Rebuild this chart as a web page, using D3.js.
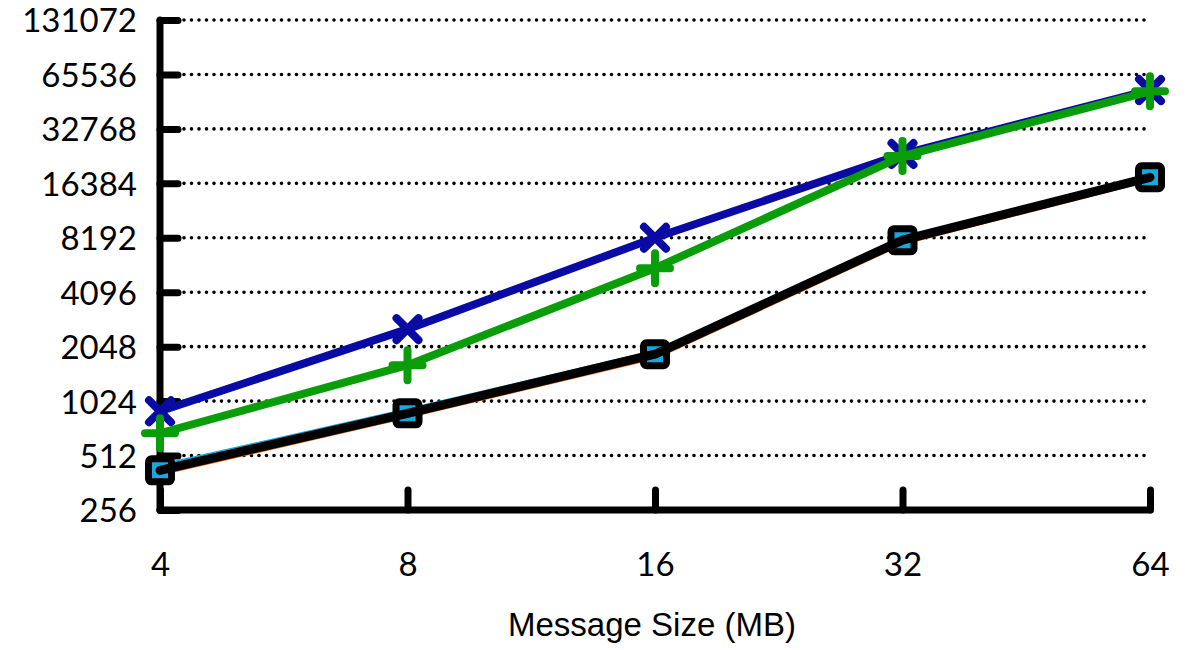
<!DOCTYPE html>
<html>
<head>
<meta charset="utf-8">
<script src="https://cdn.jsdelivr.net/npm/d3@7"></script>
<style>
  body { margin: 0; background: #fff; }
  svg { display: block; font-family: Lato, "Open Sans", sans-serif; }
</style>
</head>
<body>
<div class="chart"></div>
<script>
// message sizes (MB)
const sizes = [4, 8, 16, 32, 64];
const yTicks = [256, 512, 1024, 2048, 4096, 8192, 16384, 32768, 65536, 131072];

// series values
const orangeVals = [415, 860, 1820, 7800, 17500];
const cyanVals   = [440, 895, 1880, 7950, 17800];
const blackVals  = [424, 877, 1860, 7950, 17700];
const blueVals   = [900, 2560, 8192, 23800, 53700];
const greenVals  = [680, 1617, 5560, 23170, 52900];

const width = 1203, height = 650;
const margin = {top: 20, right: 53, bottom: 140, left: 160};

const svg = d3.select('.chart')
    .append('svg')
    .attr('width', width)
    .attr('height', height);

const xScale = d3.scaleLog().base(2)
    .domain([4, 64])
    .range([margin.left, width - margin.right]);
const yScale = d3.scaleLog().base(2)
    .domain([256, 131072])
    .range([height - margin.bottom, margin.top]);

// dotted gridlines
svg.append("g")
  .selectAll("line")
  .data(yTicks.slice(1))
  .join("line")
    .attr("x1", margin.left + 24)
    .attr("x2", xScale(64))
    .attr("y1", d => yScale(d))
    .attr("y2", d => yScale(d))
    .attr("stroke", "black")
    .attr("stroke-width", 3.6)
    .attr("stroke-linecap", "round")
    .attr("stroke-dasharray", "0,7.5");

// y axis
const yAxis = g => g
    .attr("transform", `translate(${margin.left},0)`)
    .call(d3.axisRight(yScale).tickValues(yTicks).tickSize(18).tickFormat(d3.format("d")))
    .call(g => g.select(".domain").remove())
    .call(g => g.selectAll(".tick line")
        .attr("stroke", "black")
        .attr("stroke-width", 7)
        .attr("stroke-linecap", "round"))
    .call(g => g.selectAll(".tick text")
        .attr("x", -23)
        .attr("dy", "0.36em")
        .attr("text-anchor", "end")
        .attr("font-size", 33)
        .attr("font-family", "Lato, sans-serif")
        .attr("fill", "black"))
    .call(g => g.append("line")
        .attr("y1", yScale(131072))
        .attr("y2", yScale(256))
        .attr("stroke", "black")
        .attr("stroke-width", 7)
        .attr("stroke-linecap", "round"));

// x axis
const xAxis = g => g
    .attr("transform", `translate(0,${yScale(256)})`)
    .call(d3.axisTop(xScale).tickValues(sizes).tickSize(20).tickFormat(d3.format("d")))
    .call(g => g.select(".domain").remove())
    .call(g => g.selectAll(".tick line")
        .attr("stroke", "black")
        .attr("stroke-width", 7)
        .attr("stroke-linecap", "round"))
    .call(g => g.selectAll(".tick text")
        .attr("y", 66)
        .attr("dy", 0)
        .attr("font-size", 33)
        .attr("font-family", "Lato, sans-serif")
        .attr("fill", "black"))
    .call(g => g.append("line")
        .attr("x1", xScale(4))
        .attr("x2", xScale(64))
        .attr("stroke", "black")
        .attr("stroke-width", 7)
        .attr("stroke-linecap", "round"))
    .call(g => g.append("text")
        .attr("x", (xScale(4) + xScale(64)) / 2 - 3)
        .attr("y", 126)
        .attr("text-anchor", "middle")
        .attr("font-size", 33)
        .attr("fill", "black")
        .text("Message Size (MB)"));

svg.append("g").call(yAxis);
svg.append("g").call(xAxis);

const line = d3.line()
    .x((d, i) => xScale(sizes[i]))
    .y(d => yScale(d));

function drawSeries(vals, color, lw, marker) {
    const g = svg.append("g");
    g.append("path")
        .datum(vals)
        .attr("fill", "none")
        .attr("stroke", color)
        .attr("stroke-width", lw)
        .attr("stroke-linejoin", "round")
        .attr("stroke-linecap", "round")
        .attr("d", line);
    const pts = g.selectAll("g.pt")
        .data(vals)
        .join("g")
        .attr("class", "pt")
        .attr("transform", (d, i) => `translate(${xScale(sizes[i])},${yScale(d)})`);
    if (marker === "x") {
        pts.append("path")
            .attr("d", "M-11,-11L11,11M-11,11L11,-11")
            .attr("stroke", color).attr("stroke-width", 8)
            .attr("stroke-linecap", "round").attr("fill", "none");
    } else if (marker === "plus") {
        pts.append("path")
            .attr("d", "M-15,0L15,0M0,-15L0,15")
            .attr("stroke", color).attr("stroke-width", 8)
            .attr("stroke-linecap", "round").attr("fill", "none");
    } else if (marker === "fillsquare") {
        pts.append("rect")
            .attr("x", -11).attr("y", -11).attr("width", 22).attr("height", 22)
            .attr("fill", color);
    } else if (marker === "circle") {
        pts.append("circle").attr("r", 11).attr("fill", color);
    } else if (marker === "square") {
        pts.append("rect")
            .attr("x", -11.5).attr("y", -11.5).attr("width", 23).attr("height", 23)
            .attr("rx", 3)
            .attr("fill", "none")
            .attr("stroke", color).attr("stroke-width", 7)
            .attr("stroke-linejoin", "round");
    }
}

drawSeries(orangeVals, "#f26c18", 7, "circle");
drawSeries(cyanVals, "#16a9dd", 7, "fillsquare");
drawSeries(blackVals, "black", 9, "square");
drawSeries(blueVals, "#0a0aa4", 8, "x");
drawSeries(greenVals, "#0a9d0a", 8, "plus");
</script>
</body>
</html>
